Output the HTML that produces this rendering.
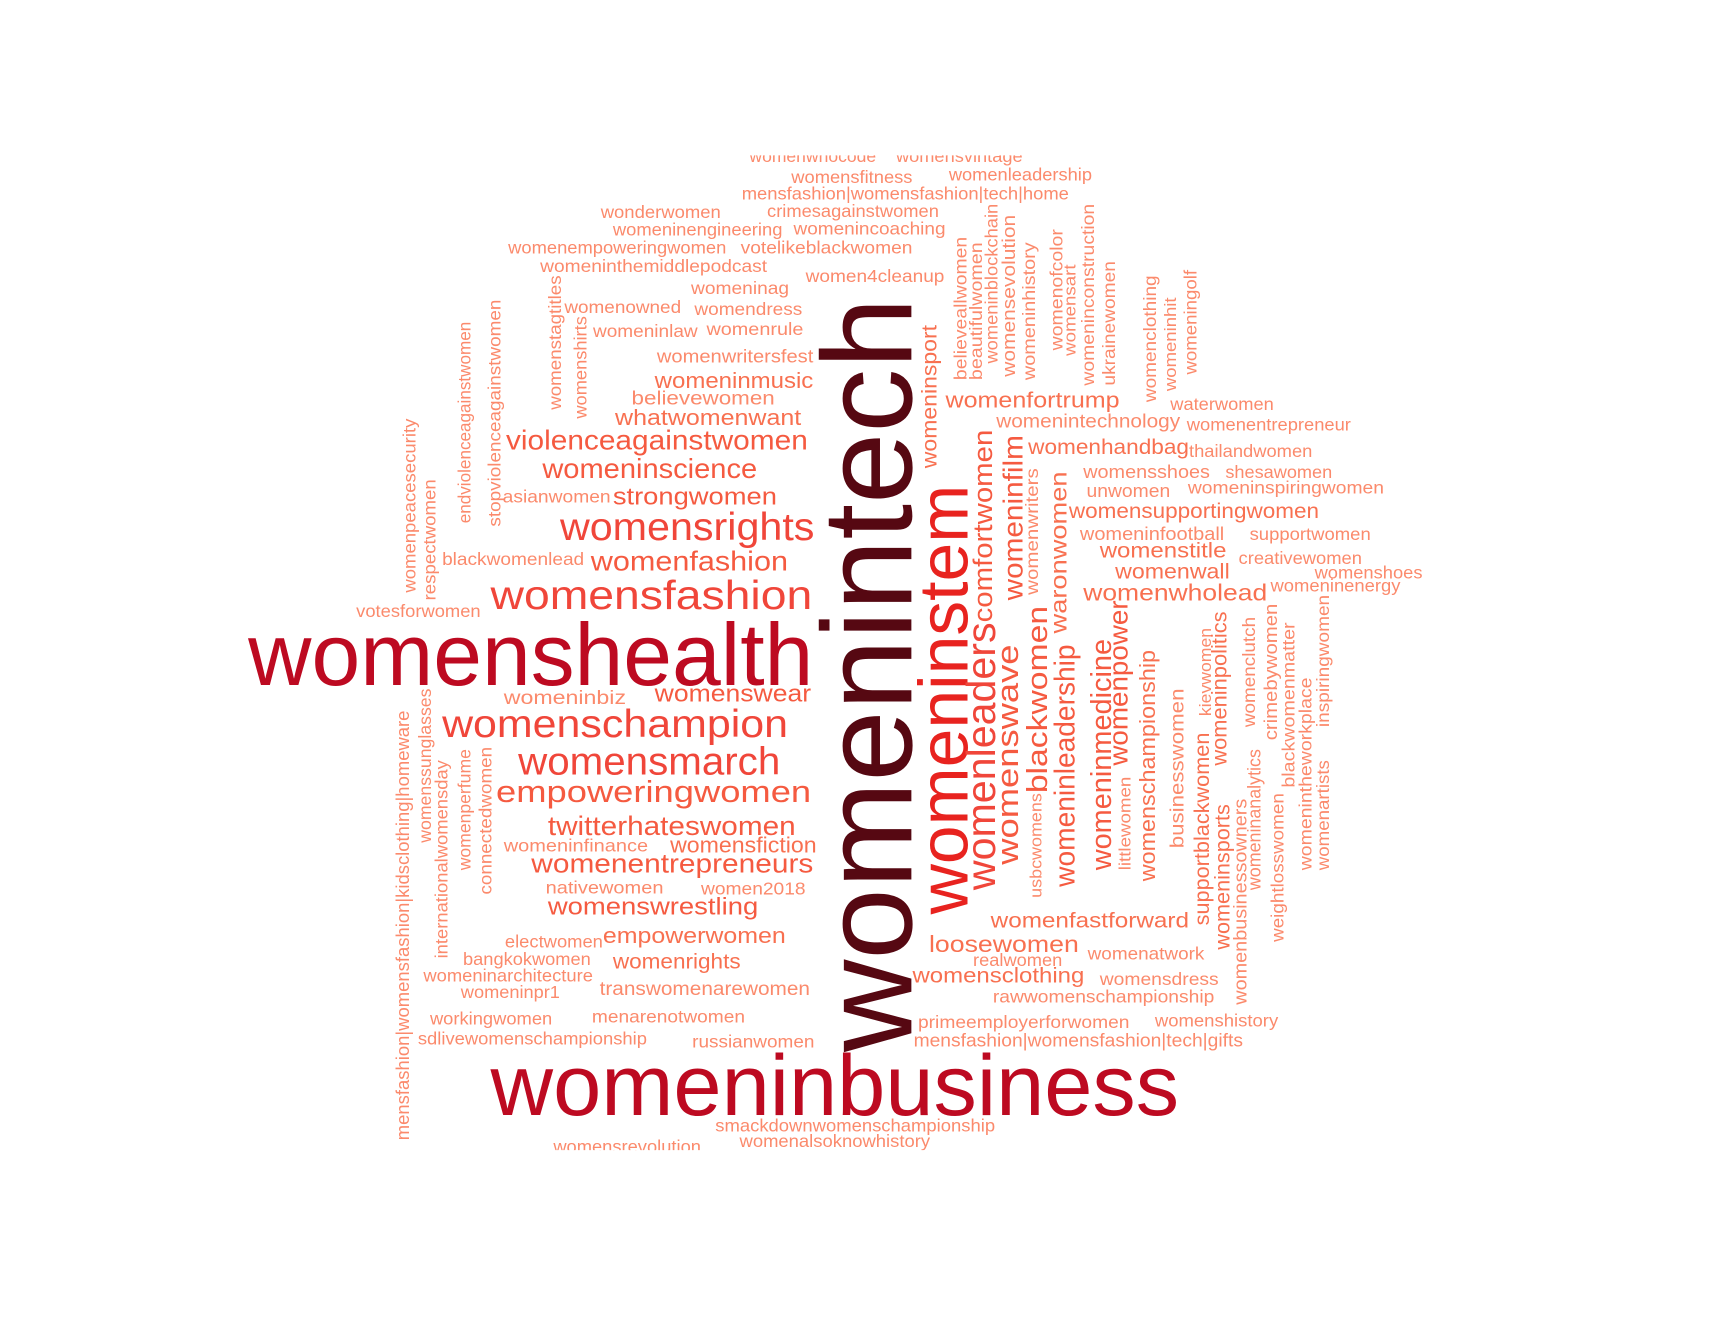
<!DOCTYPE html>
<html><head><meta charset="utf-8"><style>
html,body{margin:0;padding:0;background:#fff;}
svg{display:block;font-family:"Liberation Sans",Arial,sans-serif;}
</style></head><body>
<svg id="cloud" width="1728" height="1344" viewBox="0 0 1568 1220" xmlns="http://www.w3.org/2000/svg">
<defs><clipPath id="clip"><rect x="0" y="141" width="1568" height="903"/></clipPath></defs>
<g id="words" clip-path="url(#clip)"></g>
</svg>
<script>
// horizontal words: [word, x1, x2, baseline, size]
const hWords = [
["womenwhocode",680,795,147,16],["womensvintage",813,928,147,16],["womensfitness",718,828,166,16],
["womenleadership",861,991,164,16],["mensfashion|womensfashion|tech|home",673,970,181,16],
["crimesagainstwomen",696,852,197,16],["wonderwomen",545,654,198,16],["womeninengineering",556,710,214,16],
["womenincoaching",720,858,213,16],["womenempoweringwomen",461,659,230,16],["votelikeblackwomen",672,828,230,16],
["womeninthemiddlepodcast",490,696,247,16],["women4cleanup",731,857,256,16],["womeninag",627,716,267,16],
["womenowned",512,618,284,16],["womendress",630,728,286,16],["womeninlaw",538,633,306,16],["womenrule",641,729,304,16],
["womenwritersfest",596,738,329,17],["womeninmusic",594,738,352,20],["believewomen",573,703,367,18],
["whatwomenwant",558,727,386,20],["violenceagainstwomen",459,733,408,25],["womeninscience",492,687,434,25],
["strongwomen",556,705,458,22],["asianwomen",456,554,456,16],["womensrights",508,739,490,35],
["blackwomenlead",401,530,513,16],["womenfashion",536,715,518,25],["womensfashion",445,737,553,37],
["votesforwomen",323,436,560,16],["womenshealth",225,738,622,80],["womeninbiz",457,568,639,18],
["womenswear",594,736,637,22],["womenschampion",401,715,669,35],["womensmarch",470,708,703,35],
["empoweringwomen",450,736,728,28],["twitterhateswomen",497,722,758,24],["womeninfinance",457,588,773,16],
["womensfiction",608,741,774,20],["womenentrepreneurs",482,738,792,24],["nativewomen",495,602,811,16],
["women2018",636,731,812,16],["womenswrestling",497,688,830,22],["electwomen",458,547,860,16],
["empowerwomen",547,713,856,20],["bangkokwomen",420,536,876,16],["womenrights",556,672,879,19],
["womeninarchitecture",384,538,891,16],["transwomenarewomen",544,735,903,18],["womeninpr1",418,508,906,16],
["workingwomen",390,501,930,16],["menarenotwomen",537,676,928,16],["sdlivewomenschampionship",379,587,948,16],
["russianwomen",628,739,951,16],["womeninbusiness",445,1070,1012,78],["smackdownwomenschampionship",649,903,1027,16],
["womensrevolution",502,636,1046,16],["womenalsoknowhistory",671,844,1041,16],
["womenfortrump",858,1016,370,20],["womenintechnology",904,1071,388,18],["waterwomen",1062,1156,372,16],
["womenentrepreneur",1077,1226,391,16],["womenhandbag",933,1079,412,19],["thailandwomen",1079,1191,415,16],
["womensshoes",983,1098,434,17],["shesawomen",1112,1209,434,16],["unwomen",986,1062,451,17],
["womeninspiringwomen",1078,1256,448,16],["womensupportingwomen",970,1197,470,19],["womeninfootball",980,1111,490,17],
["supportwomen",1134,1244,490,16],["womenstitle",998,1113,506,19],["creativewomen",1124,1236,512,16],
["womenshoes",1193,1291,525,16],["womenwall",1012,1116,525,19],["womeninenergy",1153,1271,537,16],
["womenwholead",983,1150,545,21],["womenfastforward",899,1079,842,19],["loosewomen",843,979,864,21],
["womenatwork",987,1093,871,16],["realwomen",883,964,877,16],["womensclothing",828,984,892,19],
["womensdress",998,1106,894,16],["rawwomenschampionship",901,1102,910,16],["primeemployerforwomen",833,1025,933,16],
["womenshistory",1048,1160,932,16],["mensfashion|womensfashion|tech|gifts",829,1128,950,17]
];
// vertical words: [word, baselineX, yTop, yBottom, size]
const vWords = [
["womenintech",827,270,955,116],["womeninstem",878,440,830,63],["womenleaders",903,565,808,37],
["womenswave",924,585,785,28],["comfortwomen",900,390,565,24],["womeninfilm",928,395,545,25],
["womenwriters",942,425,540,16],["blackwomen",950,550,720,26],["waronwomen",968,428,575,21],
["womeninleadership",975,585,805,26],["usbcwomens",945,720,815,15],["womeninmedicine",1008,580,790,26],
["womenpower",1023,545,695,24],["littlewomen",1026,705,790,15],["womenschampionship",1048,590,800,20],
["businesswomen",1074,625,770,18],["supportblackwomen",1097,665,840,19],["womeninsports",1116,730,862,19],
["womeninpolitics",1113,555,695,19],["kievwomen",1099,570,650,15],["womenbusinessowners",1131,725,912,17],
["womeninanalytics",1144,680,808,17],["womenclutch",1139,560,660,16],["crimebywomen",1159,548,672,17],
["weightlosswomen",1165,720,855,16],["blackwomenmatter",1175,565,715,16],["womenintheworkplace",1190,615,790,16],
["womenartists",1206,690,790,16],["inspiringwomen",1206,540,660,16],["womeninsport",850,295,425,19],
["believeallwomen",877,215,345,16],["beautifulwomen",891,220,345,16],["womeninblockchain",905,185,330,16],
["womensevolution",921,195,342,17],["womeninhistory",939,220,345,16],["womenofcolor",964,208,318,16],
["womensart",976,240,323,15],["womeninconstruction",993,185,350,16],["ukrainewomen",1012,237,350,16],
["womenclothing",1049,250,365,16],["womeninhit",1067,270,355,15],["womeningolf",1086,245,340,16],
["womenstagtitles",509,250,372,16],["womenshirts",532,287,380,16],["endviolenceagainstwomen",427,292,475,16],
["stopviolenceagainstwomen",454,272,478,16],["womenpeacesecurity",377,380,538,16],["respectwomen",395,435,545,16],
["mensfashion|womensfashion|kidsclothing|homeware",371,645,1035,17],["womenssunglasses",391,625,765,16],
["internationalwomensday",406,690,870,16],["womenperfume",427,680,790,16],["connectedwomen",446,678,812,16]
];
function colorFor(s){
  if(s>=100) return '#560812';
  if(s>=70) return '#bd0a21';
  if(s>=55) return '#e8231f';
  if(s>=30) return '#f0463a';
  if(s>=22) return '#f55a40';
  if(s>=19) return '#f87050';
  return '#fb8a6c';
}
const g = document.getElementById('words');
const NS = 'http://www.w3.org/2000/svg';
function slug(w){return 'word-'+w.replace(/[^a-z0-9]+/gi,'-').toLowerCase();}
hWords.forEach(d=>{
  const t=document.createElementNS(NS,'text');
  t.setAttribute('x',d[1]);t.setAttribute('y',d[3]);
  t.setAttribute('font-size',d[4]);
  t.setAttribute('textLength',d[2]-d[1]);
  t.setAttribute('lengthAdjust','spacingAndGlyphs');
  t.setAttribute('fill',colorFor(d[4]));
  t.textContent=d[0];
  
  
  g.appendChild(t);
});
vWords.forEach(d=>{
  const t=document.createElementNS(NS,'text');
  t.setAttribute('x',0);t.setAttribute('y',0);
  t.setAttribute('transform','translate('+d[1]+','+d[3]+') rotate(-90)');
  t.setAttribute('font-size',d[4]);
  t.setAttribute('textLength',d[3]-d[2]);
  t.setAttribute('lengthAdjust','spacingAndGlyphs');
  t.setAttribute('fill',colorFor(d[4]));
  t.textContent=d[0];
  
  
  g.appendChild(t);
});
</script>
</body></html>
